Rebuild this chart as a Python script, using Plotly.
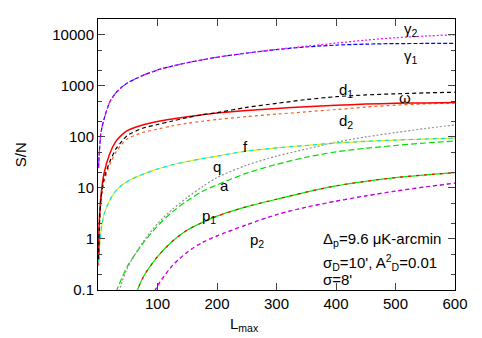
import numpy as np
import plotly.graph_objects as go

# L_max grid shared by all curves
L = [1, 2, 5, 10, 20, 30, 40, 50, 75, 100, 125, 150, 175, 200, 250, 300, 350, 400, 450, 500, 550, 600]

# S/N values (None = below plot range)
gamma1 = [25, 45, 120, 220, 490, 730, 950, 1150, 1600, 2050, 2450, 2850, 3250, 3650, 4400, 5150, 5800, 6300, 6600, 6750, 6800, 6850]
gamma2 = [25, 45, 120, 220, 490, 730, 950, 1150, 1600, 2050, 2450, 2850, 3250, 3650, 4400, 5200, 6000, 6900, 7900, 8800, 9500, 10100]
omega = [0.5, 2, 7, 19, 48, 82, 110, 135, 172, 200, 225, 250, 272, 295, 330, 362, 390, 418, 440, 455, 465, 472]
d1 = [0.4, 1.6, 6, 15, 33, 58, 82, 108, 148, 175, 205, 240, 272, 300, 380, 455, 540, 615, 665, 700, 730, 752]
d2 = [0.3, 1.3, 5, 13, 29, 50, 72, 93, 122, 142, 165, 185, 203, 220, 250, 280, 310, 345, 385, 420, 445, 460]
f = [0.35, 0.6, 1.4, 3.0, 5.8, 8.8, 11.3, 13.6, 18.5, 23.5, 28.5, 33, 37.5, 42, 53, 61, 68, 76, 82, 87, 91, 95]
q = [None, None, None, None, None, 0.055, 0.14, 0.28, 0.85, 2.0, 3.8, 6.5, 10.5, 16, 28, 42, 58, 79, 100, 122, 146, 172]
a = [None, None, None, None, None, 0.09, 0.17, 0.3, 0.8, 1.8, 3.4, 5.6, 8.5, 11.5, 19.5, 29, 40, 51, 60, 68, 76, 83]
p1 = [None, None, None, None, None, None, None, 0.03, 0.17, 0.45, 0.9, 1.5, 2.1, 2.8, 4.3, 6.0, 8.3, 11, 13.5, 16, 18, 20]
p2 = [None, None, None, None, None, None, None, None, 0.03, 0.12, 0.3, 0.55, 0.85, 1.15, 1.9, 3.0, 4.2, 5.5, 7.0, 8.7, 10.5, 12.4]

xtick_vals = [100, 200, 300, 400, 500, 600]
ytick_vals = [0.1, 1, 10, 100, 1000, 10000]
ytick_text = ["0.1", "1", "10", "100", "1000", "10000"]

FONT = "Liberation Sans, Arial, Helvetica, sans-serif"
FS = 15

fig = go.Figure()

def add(y, color, dash="solid", width=1.2):
    fig.add_trace(go.Scatter(x=L, y=y, mode="lines", connectgaps=False,
                             line=dict(color=color, dash=dash, width=width, shape="spline", smoothing=0.8),
                             showlegend=False, hoverinfo="skip"))

# drawn in pairs: underlying line then the dashed one on top
add(p2, "#9400d3", "4px,3px")
add(p2, "#ff00ff", "2px,5px")
add(p1, "#00ee00", "solid")
add(p1, "#ff0000", "3px,5px")
add(a, "#00dd00", "6px,3px")
add(q, "#909090", "2px,2px")
add(f, "#e8e800", "solid")
add(f, "#00e8e8", "4px,4px")
add(d2, "#ff5a1e", "3px,3px")
add(omega, "#ff0000", "solid", 1.5)
add(d1, "#000000", "4px,3px")
add(gamma1, "#0000ff", "4px,2px")
add(gamma2, "#ff00ff", "2px,2px")

# curve labels (left edge x, centre y in data units)
labels = [
    ("γ<sub>2</sub>", 511, 12500, FS),
    ("γ<sub>1</sub>", 511, 3700, FS),
    ("d<sub>1</sub>", 402, 800, FS),
    ("ω", 503, 600, FS),
    ("d<sub>2</sub>", 402, 200, FS),
    ("f", 240, 66, FS),
    ("q", 190, 26, FS),
    ("a", 201, 11.4, FS),
    ("p<sub>1</sub>", 172, 2.7, FS),
    ("p<sub>2</sub>", 252, 0.95, FS),
    ("Δ<sub>p</sub>=9.6 μK-arcmin", 374, 0.97, FS),
    ("σ<sub>D</sub>=10', A<sup>2</sup><sub>D</sub>=0.01", 374, 0.35, FS),
    ("σ=8'", 374, 0.16, FS),
]
for txt, lx, ly, fs in labels:
    fig.add_annotation(x=lx, y=np.log10(ly), xref="x", yref="y", text=txt,
                       showarrow=False, xanchor="left", yanchor="middle",
                       font=dict(family=FONT, size=fs, color="black"))

fig.add_annotation(x=-0.246, y=0.5, xref="paper", yref="paper", text="S/N",
                   textangle=-90, showarrow=False,
                   font=dict(family=FONT, size=FS, color="black"))
fig.add_annotation(x=0.41, y=-0.168, xref="paper", yref="paper", text="L<sub>max</sub>",
                   showarrow=False, font=dict(family=FONT, size=FS, color="black"))

fig.update_xaxes(range=[0, 600], tickvals=xtick_vals, ticks="inside", ticklen=7,
                 showline=True, linecolor="black", linewidth=1, mirror="allticks",
                 showgrid=False, zeroline=False,
                 tickfont=dict(family=FONT, size=FS, color="black"))
fig.update_yaxes(type="log", range=[-1, np.log10(20500)], tickvals=ytick_vals, ticktext=ytick_text,
                 ticks="inside", ticklen=7, showline=True, linecolor="black", linewidth=1,
                 mirror="allticks", showgrid=False, zeroline=False,
                 minor=dict(ticks="inside", ticklen=4, tickvals=[0.2, 0.5, 2, 5, 20, 50, 200, 500, 2000, 5000, 20000],
                            showgrid=False),
                 tickfont=dict(family=FONT, size=FS, color="black"))

# page body adds an 8px offset, so the figure is 8px smaller and margins shifted
fig.update_layout(width=474, height=330, margin=dict(l=90, r=27, t=11, b=48),
                  plot_bgcolor="white", paper_bgcolor="white")

fig.write_html("out.html")
